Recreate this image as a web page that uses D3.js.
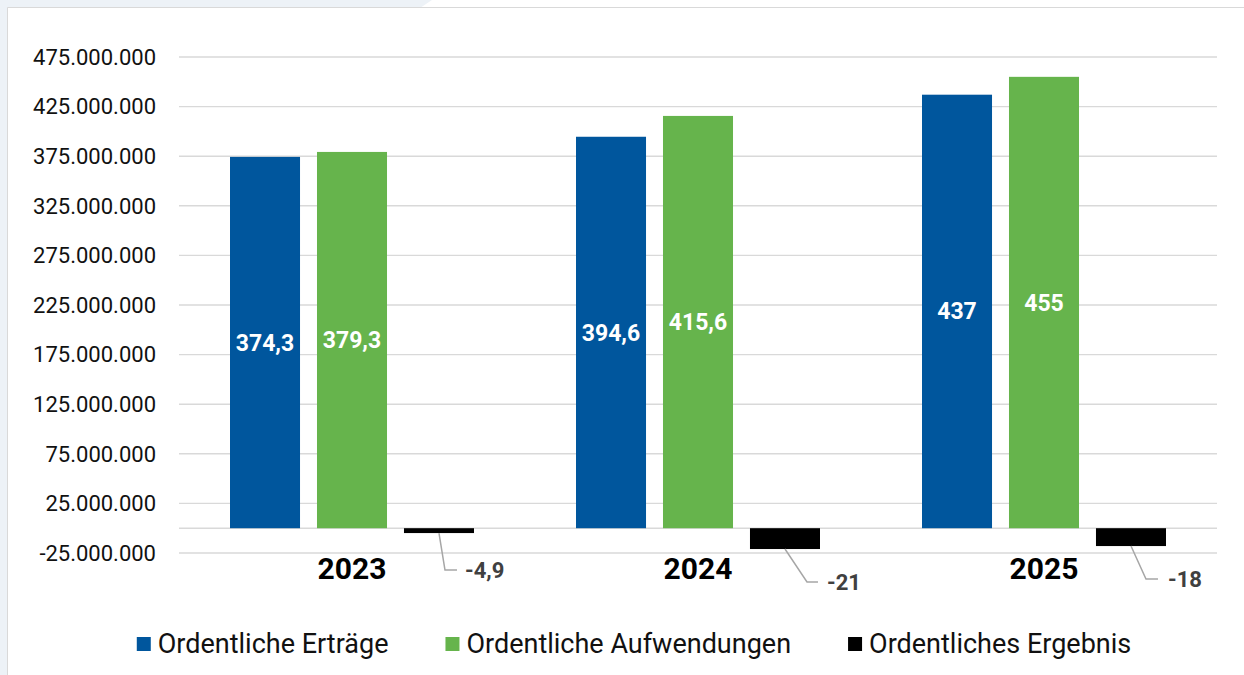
<!DOCTYPE html>
<html>
<head>
<meta charset="utf-8">
<script src="https://cdn.jsdelivr.net/npm/d3@7"></script>
<style>
  html, body { margin: 0; padding: 0; background: #fff; }
  svg { display: block; font-family: Roboto, "Open Sans", sans-serif; }
</style>
</head>
<body>
<svg id="chart" width="1244" height="675"></svg>
<script>
// chart values (in million euro)
const years = ['2023', '2024', '2025'];
const ertraege = [374.3, 394.6, 437];
const aufwendungen = [379.3, 415.6, 455];
const ergebnis = [-4.9, -21, -18];

const seriesNames = ['Ordentliche Erträge', 'Ordentliche Aufwendungen', 'Ordentliches Ergebnis'];
const seriesColors = ['#00569d', '#66b44c', '#000000'];

const yTicks = [-25e6, 25e6, 75e6, 125e6, 175e6, 225e6, 275e6, 325e6, 375e6, 425e6, 475e6];

// hand placed data labels of the negative bars (offset from bar centre / bar bottom)
const ergLabelPos = [
  { elbow: 6, end: 18, text: 26, dy: 37 },
  { elbow: 22, end: 33, text: 42, dy: 33 },
  { elbow: 15, end: 27, text: 37, dy: 33 },
];

const width = 1244, height = 675;
const margin = { left: 179, right: 27 };

const de = d3.formatLocale({ decimal: ',', thousands: '.', grouping: [3], currency: ['', ' €'], minus: '-' });
const tickFmt = de.format(',.0f');
const valFmt = de.format('.1~f');

const svg = d3.select('#chart');

// page background with the panel
svg.append('rect').attr('width', width).attr('height', height).attr('fill', '#fff');
svg.append('path')
  .attr('d', 'M0,0 H432 L420,8 H8 V675 H0 Z')
  .attr('fill', '#edf2f7');
svg.append('path')
  .attr('d', `M7.5,${height} V7.5 H${width}`)
  .attr('fill', 'none').attr('stroke', '#d9d9d9').attr('stroke-width', 1);

// -25M sits at y=553, 475M at y=57
const y = d3.scaleLinear()
  .domain([-25e6, 475e6])
  .range([553, 57]);

const x0 = d3.scaleBand()
  .domain(years)
  .range([margin.left, width - margin.right]);

const x1 = d3.scaleBand()
  .domain(seriesNames)
  .range([x0.bandwidth() / 2 - 122, x0.bandwidth() / 2 + 122])
  .paddingInner(0.195);

const color = d3.scaleOrdinal(seriesNames, seriesColors);

// gridlines + zero line
svg.append('g')
  .selectAll('line')
  .data(yTicks.concat([0]))
  .join('line')
  .attr('x1', margin.left).attr('x2', width - margin.right)
  .attr('y1', d => y(d)).attr('y2', d => y(d))
  .attr('stroke', '#d9d9d9').attr('stroke-width', 1.4);

// y axis labels
svg.append('g')
  .selectAll('text')
  .data(yTicks)
  .join('text')
  .attr('x', 156)
  .attr('y', d => y(d))
  .attr('dy', '0.35em')
  .attr('text-anchor', 'end')
  .attr('font-size', 22)
  .attr('fill', '#111')
  .text(d => tickFmt(d));

// bars
const rows = years.map((yr, i) => ({
  year: yr,
  values: [ertraege[i], aufwendungen[i], ergebnis[i]].map((v, j) => ({ key: seriesNames[j], value: v, i }))
}));

const group = svg.append('g')
  .selectAll('g')
  .data(rows)
  .join('g')
  .attr('transform', d => `translate(${x0(d.year)},0)`);

group.selectAll('rect')
  .data(d => d.values)
  .join('rect')
  .attr('x', d => x1(d.key))
  .attr('width', x1.bandwidth())
  .attr('y', d => y(Math.max(0, d.value * 1e6)))
  .attr('height', d => Math.abs(y(d.value * 1e6) - y(0)))
  .attr('fill', d => color(d.key));

// labels inside the positive bars
group.selectAll('text.inbar')
  .data(d => d.values.filter(v => v.value > 0))
  .join('text')
  .attr('class', 'inbar')
  .attr('x', d => x1(d.key) + x1.bandwidth() / 2)
  .attr('y', d => (y(d.value * 1e6) + y(0)) / 2)
  .attr('dy', '0.35em')
  .attr('text-anchor', 'middle')
  .attr('font-size', 23)
  .attr('font-weight', 700)
  .attr('fill', '#fff')
  .text(d => valFmt(d.value));

// labels for the negative result bars with leader lines
const neg = group.selectAll('g.neg')
  .data(d => d.values.filter(v => v.value < 0))
  .join('g')
  .attr('class', 'neg');

neg.append('path')
  .attr('d', d => {
    const p = ergLabelPos[d.i];
    const cx = x1(d.key) + x1.bandwidth() / 2;
    const yb = y(d.value * 1e6);
    return `M${cx},${yb} L${cx + p.elbow},${yb + p.dy} H${cx + p.end}`;
  })
  .attr('fill', 'none')
  .attr('stroke', '#a6a6a6')
  .attr('stroke-width', 1.5);

neg.append('text')
  .attr('x', d => x1(d.key) + x1.bandwidth() / 2 + ergLabelPos[d.i].text)
  .attr('y', d => y(d.value * 1e6) + ergLabelPos[d.i].dy)
  .attr('dy', '0.35em')
  .attr('font-size', 22)
  .attr('font-weight', 700)
  .attr('fill', '#404040')
  .text(d => valFmt(d.value));

// category labels
svg.append('g')
  .selectAll('text')
  .data(years)
  .join('text')
  .attr('x', d => x0(d) + x0.bandwidth() / 2)
  .attr('y', 568)
  .attr('dy', '0.35em')
  .attr('text-anchor', 'middle')
  .attr('font-size', 30)
  .attr('font-weight', 700)
  .attr('fill', '#000')
  .text(d => d);

// legend
const legend = svg.append('g');
const items = legend.selectAll('g')
  .data(seriesNames)
  .join('g');
items.append('rect')
  .attr('width', 14).attr('height', 14)
  .attr('y', -7)
  .attr('fill', d => color(d));
items.append('text')
  .attr('x', 21)
  .attr('dy', '0.35em')
  .attr('font-size', 27)
  .attr('fill', '#111')
  .text(d => d);

const gap = 57;
const itemW = [];
items.each(function () { itemW.push(21 + d3.select(this).select('text').node().getComputedTextLength()); });
const total = d3.sum(itemW) + gap * (itemW.length - 1);
let cursor = 634 - total / 2;
items.attr('transform', (d, i) => {
  const t = `translate(${cursor},644)`;
  cursor += itemW[i] + gap;
  return t;
});
</script>
</body>
</html>
